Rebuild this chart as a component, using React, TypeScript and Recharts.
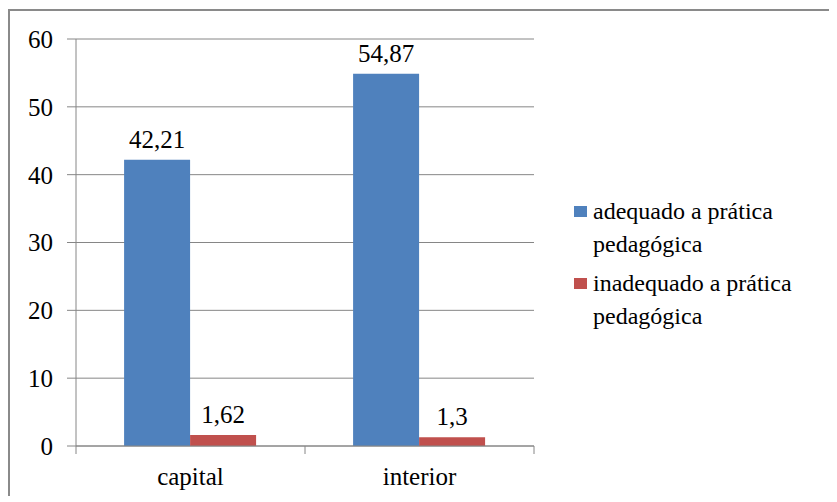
import { Bar, BarChart, CartesianGrid, LabelList, Legend, XAxis, YAxis } from 'recharts';

const categories = ['capital', 'interior'];
const adequado = [42.21, 54.87];
const inadequado = [1.62, 1.3];
const yTicks = [0, 10, 20, 30, 40, 50, 60];
const seriesNames = ['adequado a prática pedagógica', 'inadequado a prática pedagógica'];

const BLUE = '#4F81BD';
const RED = '#C0504D';
const GRID = '#868686';
const FONT = '"Liberation Serif", "Times New Roman", serif';

const data = categories.map((name, i) => ({
  name,
  pos: i + 0.5,
  adequado: adequado[i],
  inadequado: inadequado[i],
}));

const fmt = (v: number) => String(v).replace('.', ',');

// category axis in Excel style: tick marks between categories, labels centred
function EdgeTick({ x, y, payload }: { x: number; y: number; payload: { value: number } }) {
  const v = Number(payload.value);
  if (Number.isInteger(v)) {
    return <line x1={x} y1={y} x2={x} y2={y + 8} stroke={GRID} />;
  }
  return (
    <text x={x} y={y + 39} textAnchor="middle" fill="#000" fontSize={25} fontFamily={FONT}>
      {categories[Math.floor(v)]}
    </text>
  );
}

function SideLegend() {
  const colors = [BLUE, RED];
  return (
    <div style={{ fontFamily: FONT, fontSize: 24, lineHeight: '33px', color: '#000', width: 290 }}>
      {seriesNames.map((s, i) => (
        <div key={s} style={{ display: 'flex', alignItems: 'flex-start', marginBottom: 6 }}>
          <span
            style={{
              display: 'inline-block',
              width: 13,
              height: 11,
              background: colors[i],
              marginTop: 11,
              marginRight: 6,
              flex: 'none',
            }}
          />
          <span style={{ width: 230 }}>{s}</span>
        </div>
      ))}
    </div>
  );
}

export default function App() {
  return (
    <div
      style={{
        marginTop: 1,
        width: 821,
        height: 485,
        borderTop: '2px solid #8a8a8a',
        borderLeft: '2px solid #8a8a8a',
        overflow: 'hidden',
        background: '#fff',
      }}
    >
      <BarChart
        width={819}
        height={483}
        data={data}
        margin={{ top: 28, right: 5, bottom: 0, left: 0 }}
        barCategoryGap="21%"
        barGap={0}
      >
        <CartesianGrid vertical={false} stroke={GRID} />
        <XAxis xAxisId="cat" dataKey="name" hide height={0} />
        <XAxis
          xAxisId="edges"
          dataKey="pos"
          type="number"
          domain={[0, categories.length]}
          allowDataOverflow
          ticks={[0, 0.5, 1, 1.5, 2]}
          interval={0}
          height={48}
          tickLine={false}
          tickSize={0}
          tickMargin={0}
          tick={EdgeTick}
          axisLine={{ stroke: GRID }}
        />
        <YAxis
          domain={[0, 60]}
          ticks={yTicks}
          width={66}
          tickSize={9}
          tickMargin={14}
          stroke={GRID}
          tick={{ fill: '#000', fontSize: 25, fontFamily: FONT }}
        />
        <Legend
          layout="vertical"
          align="right"
          verticalAlign="top"
          content={<SideLegend />}
          wrapperStyle={{ left: 564, top: 184, width: 290 }}
        />
        <Bar dataKey="adequado" xAxisId="cat" fill={BLUE} isAnimationActive={false}>
          <LabelList
            dataKey="adequado"
            position="top"
            offset={12}
            formatter={(v: number) => fmt(v)}
            style={{ fill: '#000', fontSize: 25, fontFamily: FONT }}
          />
        </Bar>
        <Bar dataKey="inadequado" xAxisId="cat" fill={RED} isAnimationActive={false}>
          <LabelList
            dataKey="inadequado"
            position="top"
            offset={12}
            formatter={(v: number) => fmt(v)}
            style={{ fill: '#000', fontSize: 25, fontFamily: FONT }}
          />
        </Bar>
      </BarChart>
    </div>
  );
}
